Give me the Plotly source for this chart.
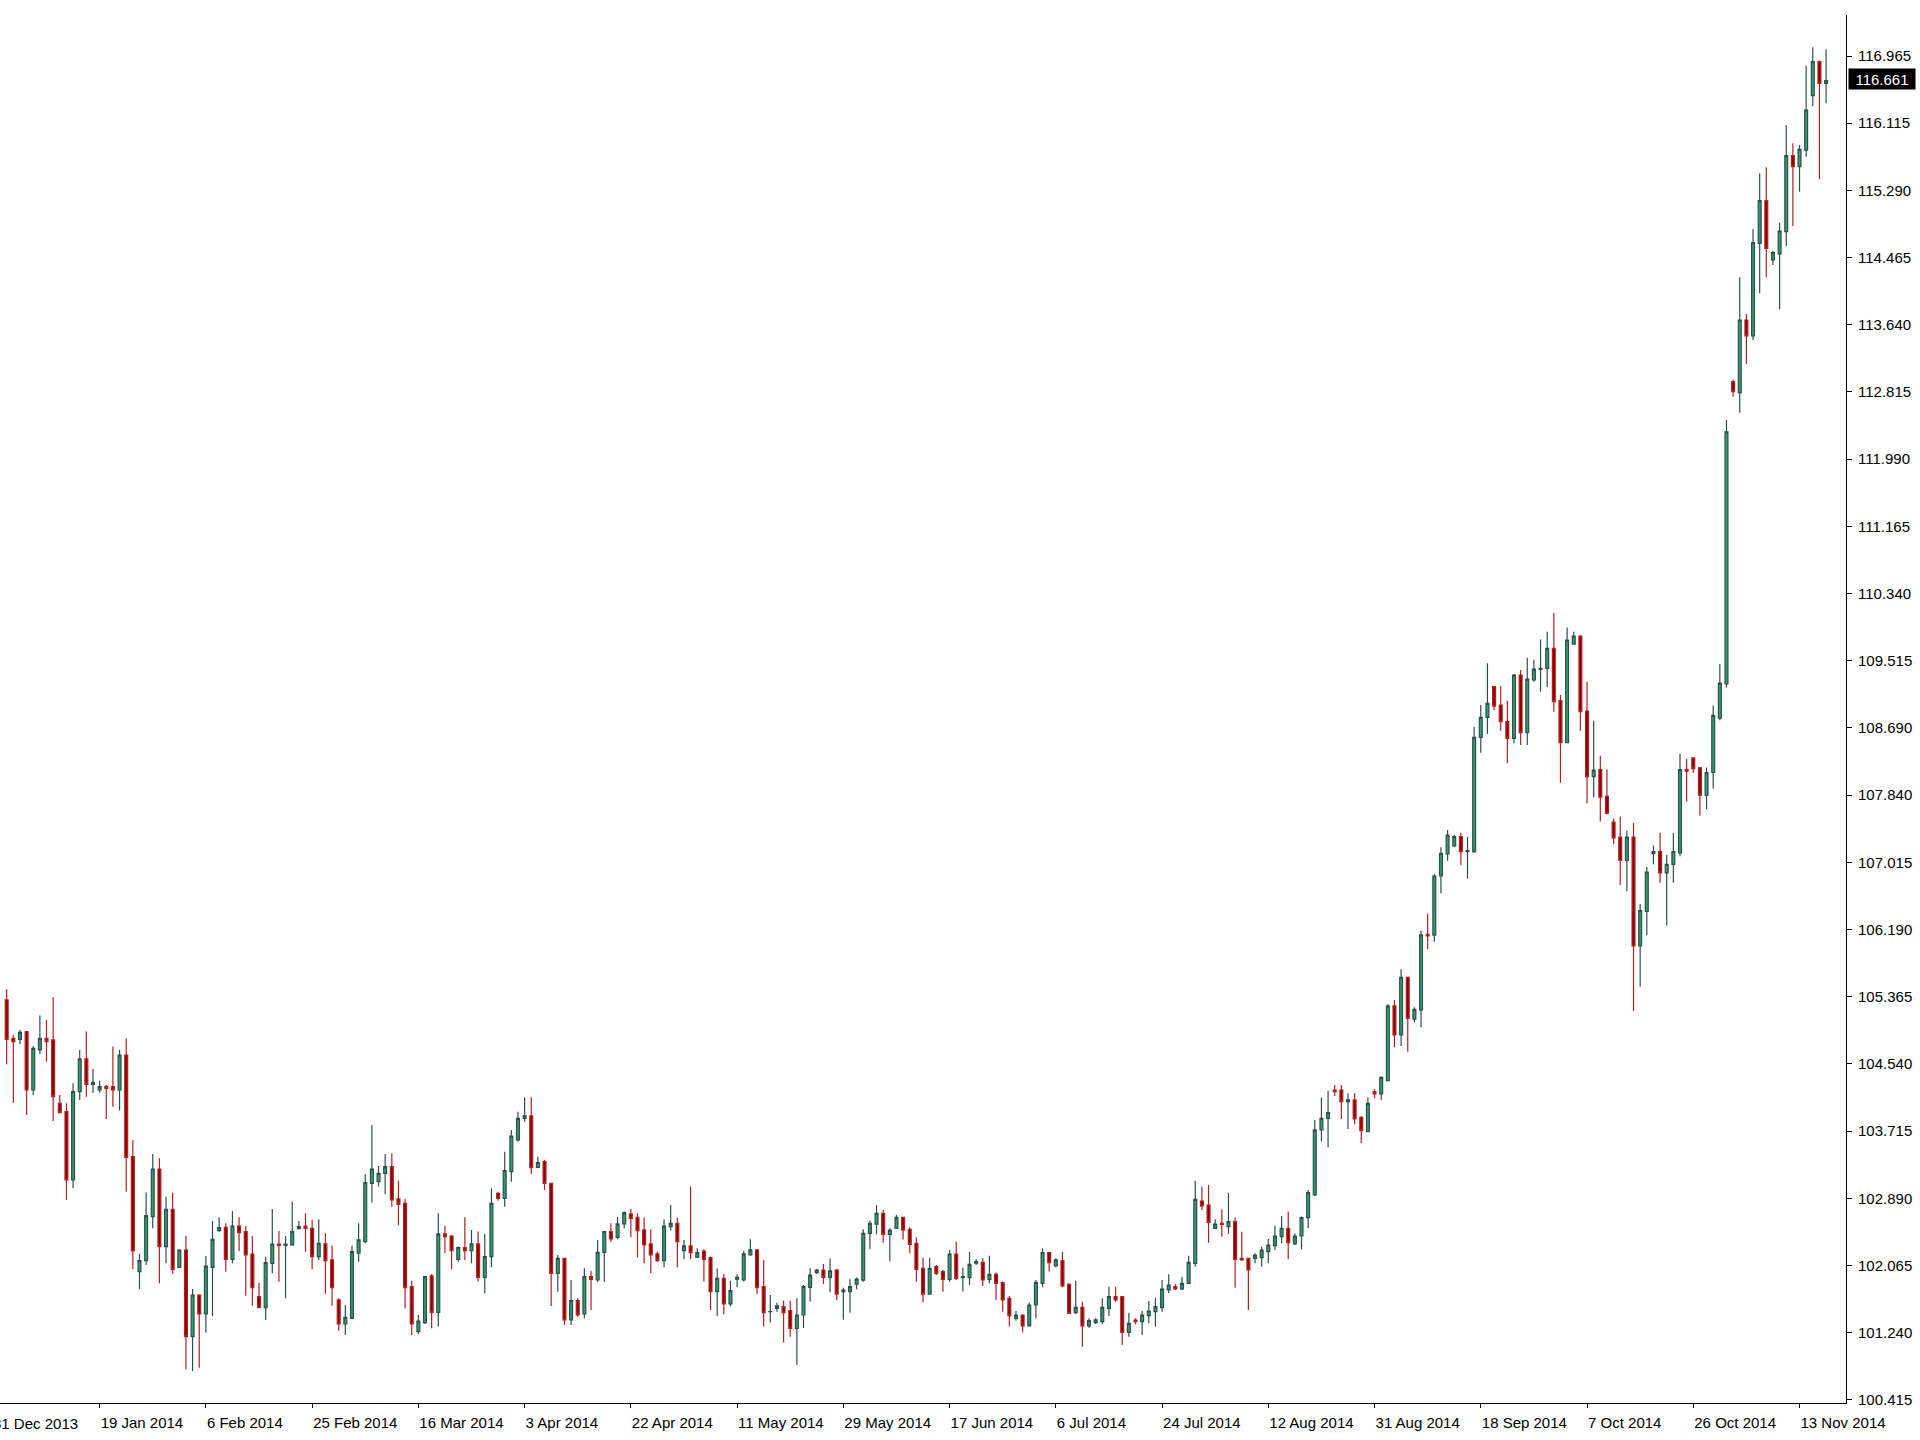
import pandas as pd
import plotly.graph_objects as go

# Daily bars (Sunday-to-Friday sessions), 2 Jan 2014 .. 18 Nov 2014
DATES = [d.strftime("%Y-%m-%d") for d in pd.bdate_range(
    "2014-01-02", "2014-11-18", freq="C", weekmask="Sun Mon Tue Wed Thu Fri")]

OPEN = [
    105.340, 104.867, 104.855, 104.950, 104.231, 104.724, 104.867, 104.847, 104.067, 103.964,
    103.123, 104.211, 104.613, 104.301, 104.231, 104.276, 104.272, 104.231, 104.662, 103.410,
    101.994, 102.129, 102.671, 103.258, 102.301, 102.761, 102.047, 102.260, 101.193, 101.706,
    101.472, 102.047, 102.498, 102.539, 102.145, 102.556, 102.486, 102.211, 101.686, 101.550,
    102.096, 102.334, 102.318, 102.322, 102.523, 102.556, 102.527, 102.178, 102.335, 102.138,
    101.645, 101.349, 101.419, 102.220, 102.363, 103.082, 103.102, 103.205, 103.287, 102.889,
    102.835, 101.809, 101.255, 101.366, 101.941, 101.493, 102.458, 102.433, 102.146, 102.289,
    102.253, 102.335, 101.924, 102.178, 102.958, 102.897, 103.225, 103.615, 103.882, 103.911,
    103.278, 103.348, 103.081, 101.973, 102.158, 101.398, 101.636, 101.472, 101.932, 101.891,
    102.232, 102.486, 102.416, 102.581, 102.704, 102.663, 102.507, 102.335, 102.212, 102.129,
    102.548, 102.589, 102.253, 102.310, 102.170, 102.248, 102.166, 101.748, 101.912, 101.596,
    101.900, 101.891, 102.199, 102.261, 101.809, 101.500, 101.542, 101.563, 101.514, 101.296,
    101.460, 101.800, 101.981, 102.014, 101.923, 102.014, 101.747, 101.747, 101.841, 101.890,
    102.465, 102.580, 102.712, 102.453, 102.527, 102.662, 102.515, 102.342, 102.034, 101.718,
    102.055, 101.993, 101.899, 102.211, 101.920, 101.920, 102.097, 102.109, 101.899, 101.961,
    101.858, 101.665, 101.419, 101.460, 101.325, 101.583, 101.850, 102.228, 102.064, 102.129,
    101.838, 101.489, 101.555, 101.325, 101.366, 101.378, 101.542, 101.686, 101.686, 101.246,
    101.398, 101.378, 101.451, 101.501, 101.550, 101.768, 101.809, 101.780, 101.850, 102.096,
    102.864, 102.814, 102.527, 102.589, 102.548, 102.609, 102.158, 102.158, 102.158, 102.166,
    102.240, 102.314, 102.425, 102.528, 102.335, 102.433, 102.659, 102.938, 103.739, 103.882,
    104.231, 104.231, 104.088, 104.108, 103.895, 103.718, 104.211, 104.182, 104.346, 105.266,
    104.909, 105.619, 105.102, 105.217, 106.148, 106.139, 106.866, 107.137, 107.236, 107.350,
    107.166, 107.166, 108.574, 108.820, 109.198, 108.972, 108.767, 108.561, 109.341, 108.631,
    109.280, 109.411, 109.423, 109.670, 109.025, 108.508, 109.723, 109.821, 108.898, 108.089,
    108.178, 107.846, 107.531, 107.346, 107.057, 107.346, 106.004, 106.431, 107.141, 107.167,
    106.904, 107.010, 107.152, 108.178, 108.320, 108.199, 107.862, 108.141, 108.809, 109.231,
    112.954, 112.819, 113.714, 113.517, 114.658, 115.183, 114.453, 114.527, 114.801, 115.737,
    115.602, 115.807, 116.476, 116.895, 116.628,
]

HIGH = [
    105.471, 104.909, 104.970, 104.962, 104.773, 105.147, 105.093, 105.372, 104.170, 104.067,
    104.313, 104.724, 104.950, 104.490, 104.346, 104.293, 104.765, 104.724, 104.867, 103.615,
    102.211, 102.967, 103.443, 103.390, 102.917, 102.966, 102.269, 102.437, 101.780, 101.714,
    102.186, 102.617, 102.663, 102.589, 102.741, 102.663, 102.556, 102.433, 101.858, 102.178,
    102.765, 102.494, 102.433, 102.856, 102.617, 102.712, 102.630, 102.638, 102.466, 102.314,
    101.666, 101.583, 102.314, 102.589, 103.193, 103.800, 103.295, 103.443, 103.451, 103.115,
    102.889, 101.883, 101.460, 101.941, 101.965, 102.712, 102.560, 102.446, 102.302, 102.663,
    102.507, 102.487, 102.457, 103.020, 102.979, 103.471, 103.738, 103.964, 104.141, 104.141,
    103.410, 103.369, 103.090, 102.199, 102.166, 101.891, 101.665, 102.035, 102.006, 102.384,
    102.494, 102.589, 102.671, 102.733, 102.765, 102.712, 102.659, 102.515, 102.240, 102.638,
    102.815, 102.659, 102.384, 103.041, 102.281, 102.269, 102.179, 102.035, 101.965, 101.883,
    101.961, 102.248, 102.392, 102.269, 102.138, 101.707, 101.612, 101.637, 101.637, 101.666,
    101.830, 102.034, 102.026, 102.088, 102.157, 102.026, 101.796, 101.899, 101.923, 102.515,
    102.621, 102.814, 102.753, 102.527, 102.691, 102.670, 102.539, 102.416, 102.166, 102.166,
    102.075, 102.014, 102.260, 102.363, 102.043, 102.240, 102.146, 102.158, 102.191, 101.982,
    101.871, 101.694, 101.509, 101.468, 101.612, 101.891, 102.281, 102.240, 102.158, 102.240,
    101.850, 101.883, 101.624, 101.419, 101.419, 101.665, 101.809, 101.809, 101.694, 101.489,
    101.419, 101.509, 101.632, 101.673, 101.891, 101.961, 101.837, 101.932, 102.190, 103.114,
    103.040, 103.061, 102.638, 102.761, 102.966, 102.662, 102.486, 102.166, 102.219, 102.301,
    102.396, 102.560, 102.680, 102.733, 102.466, 102.672, 103.000, 103.862, 104.137, 104.223,
    104.293, 104.293, 104.190, 104.190, 103.911, 104.141, 104.240, 104.396, 105.286, 105.340,
    105.717, 105.627, 105.249, 106.194, 106.400, 106.891, 107.219, 107.432, 107.371, 107.400,
    107.350, 108.705, 108.972, 109.485, 109.206, 109.206, 109.025, 109.354, 109.403, 109.555,
    109.526, 109.780, 109.875, 110.109, 109.095, 109.928, 109.875, 109.830, 109.259, 108.779,
    108.346, 108.178, 107.573, 107.599, 107.425, 107.520, 106.520, 106.978, 107.241, 107.399,
    107.125, 107.399, 108.373, 108.309, 108.330, 108.209, 108.204, 108.967, 109.478, 112.483,
    112.978, 114.239, 113.788, 114.834, 115.520, 115.594, 114.568, 114.912, 116.115, 115.889,
    115.869, 116.846, 117.072, 116.910, 117.047,
]

LOW = [
    104.547, 104.075, 104.798, 103.923, 104.170, 104.675, 104.580, 103.849, 103.944, 102.877,
    103.020, 104.108, 104.149, 104.198, 104.198, 103.874, 104.026, 103.977, 102.979, 102.023,
    101.776, 102.076, 102.528, 101.850, 102.096, 101.965, 102.039, 100.791, 100.770, 100.811,
    101.242, 101.448, 102.486, 101.993, 102.096, 102.248, 101.698, 101.575, 101.542, 101.398,
    101.973, 101.870, 101.665, 102.314, 102.519, 102.240, 102.022, 102.137, 101.719, 101.575,
    101.267, 101.214, 101.411, 102.117, 102.343, 102.844, 103.041, 102.946, 102.794, 102.569,
    101.542, 101.214, 101.226, 101.349, 101.296, 101.317, 102.220, 102.023, 102.117, 102.138,
    102.097, 101.871, 101.727, 102.047, 102.868, 102.794, 103.102, 103.595, 103.841, 103.196,
    103.266, 102.999, 101.571, 101.747, 101.337, 101.337, 101.439, 101.419, 101.522, 101.870,
    101.870, 102.363, 102.392, 102.527, 102.416, 102.171, 102.097, 101.973, 102.117, 102.047,
    102.499, 102.047, 102.146, 102.146, 102.162, 101.871, 101.522, 101.448, 101.473, 101.563,
    101.801, 101.871, 102.191, 101.719, 101.317, 101.366, 101.501, 101.120, 101.193, 100.845,
    101.300, 101.623, 101.964, 101.841, 101.739, 101.644, 101.400, 101.488, 101.776, 101.870,
    102.268, 102.453, 102.350, 102.124, 102.519, 102.391, 102.219, 101.870, 101.616, 101.710,
    101.952, 101.747, 101.870, 101.891, 101.748, 101.830, 102.076, 101.817, 101.850, 101.645,
    101.501, 101.317, 101.390, 101.243, 101.317, 101.419, 101.801, 101.994, 102.047, 101.801,
    101.473, 101.473, 101.070, 101.304, 101.349, 101.345, 101.448, 101.624, 101.090, 101.193,
    101.345, 101.213, 101.357, 101.316, 101.501, 101.727, 101.768, 101.768, 101.837, 102.055,
    102.753, 102.351, 102.519, 102.424, 102.457, 101.796, 102.129, 101.521, 102.096, 102.055,
    102.096, 102.260, 102.343, 102.146, 102.323, 102.269, 102.528, 102.926, 103.603, 103.525,
    104.158, 103.874, 103.751, 103.809, 103.575, 103.710, 104.129, 104.108, 104.338, 104.757,
    104.773, 104.703, 105.061, 105.003, 105.964, 106.057, 106.653, 107.055, 107.219, 107.002,
    106.837, 107.153, 108.385, 108.615, 108.910, 108.656, 108.254, 108.500, 108.479, 108.479,
    109.259, 109.136, 109.190, 108.890, 108.015, 108.500, 109.715, 108.656, 107.761, 107.835,
    107.536, 107.625, 107.257, 106.757, 106.678, 105.204, 105.504, 106.136, 107.010, 106.783,
    106.257, 106.783, 107.109, 107.783, 108.136, 107.609, 107.689, 107.941, 108.783, 109.188,
    112.767, 112.572, 113.172, 113.467, 114.042, 114.239, 114.391, 113.845, 114.625, 114.871,
    115.294, 115.725, 116.349, 115.446, 116.382,
]

CLOSE = [
    104.855, 104.826, 104.941, 104.231, 104.744, 104.867, 104.826, 104.149, 103.952, 103.123,
    104.211, 104.613, 104.301, 104.326, 104.272, 104.252, 104.231, 104.662, 103.402, 102.248,
    102.129, 102.684, 103.258, 102.302, 102.761, 102.022, 102.260, 101.193, 101.706, 101.472,
    102.063, 102.392, 102.535, 102.145, 102.556, 102.474, 102.199, 101.796, 101.550, 102.104,
    102.334, 102.318, 102.334, 102.486, 102.548, 102.527, 102.178, 102.342, 102.129, 101.797,
    101.349, 101.432, 102.240, 102.384, 103.090, 103.258, 103.205, 103.287, 102.876, 102.823,
    101.797, 101.349, 101.386, 101.932, 101.493, 102.458, 102.425, 102.253, 102.289, 102.253,
    102.335, 101.924, 102.178, 102.835, 102.897, 103.237, 103.664, 103.882, 103.911, 103.274,
    103.336, 103.081, 101.973, 102.158, 101.398, 101.636, 101.460, 101.932, 101.899, 102.232,
    102.486, 102.396, 102.581, 102.720, 102.650, 102.498, 102.322, 102.199, 102.129, 102.556,
    102.589, 102.363, 102.310, 102.228, 102.228, 102.146, 101.748, 101.912, 101.596, 101.760,
    101.924, 102.212, 102.261, 101.797, 101.489, 101.501, 101.571, 101.489, 101.296, 101.460,
    101.809, 101.952, 102.014, 101.923, 102.005, 101.718, 101.767, 101.808, 101.903, 102.465,
    102.589, 102.712, 102.453, 102.506, 102.662, 102.506, 102.330, 102.022, 101.718, 102.034,
    101.973, 101.899, 102.211, 101.911, 101.932, 102.084, 102.117, 101.891, 101.961, 101.850,
    101.645, 101.448, 101.460, 101.325, 101.583, 101.862, 102.228, 102.105, 102.138, 101.817,
    101.481, 101.555, 101.325, 101.390, 101.399, 101.555, 101.686, 101.645, 101.246, 101.357,
    101.378, 101.460, 101.509, 101.562, 101.780, 101.829, 101.780, 101.850, 102.108, 102.884,
    102.802, 102.601, 102.580, 102.576, 102.609, 102.145, 102.137, 102.014, 102.199, 102.260,
    102.322, 102.433, 102.528, 102.351, 102.433, 102.659, 102.967, 103.739, 103.882, 103.952,
    104.211, 104.088, 104.108, 103.874, 103.731, 104.067, 104.182, 104.387, 105.266, 104.909,
    105.619, 105.114, 105.225, 106.140, 106.128, 106.866, 107.145, 107.371, 107.350, 107.166,
    107.178, 108.574, 108.820, 108.993, 108.959, 108.767, 108.561, 109.341, 108.631, 109.292,
    109.415, 109.423, 109.670, 109.013, 108.508, 109.772, 109.821, 108.890, 108.089, 108.171,
    107.836, 107.636, 107.336, 107.057, 107.346, 106.004, 106.441, 106.915, 107.167, 106.904,
    107.010, 107.167, 108.178, 108.157, 108.188, 107.862, 108.141, 108.846, 109.241, 112.336,
    112.831, 113.714, 113.517, 114.666, 115.183, 114.596, 114.543, 114.810, 115.737, 115.602,
    115.815, 116.300, 116.895, 116.628, 116.661,
]

TICK_DATES = ["2014-01-19", "2014-02-06", "2014-02-25", "2014-03-16", "2014-04-03",
              "2014-04-22", "2014-05-11", "2014-05-29", "2014-06-17", "2014-07-06",
              "2014-07-24", "2014-08-12", "2014-08-31", "2014-09-18", "2014-10-07",
              "2014-10-26", "2014-11-13"]
TICK_TEXT = ["19 Jan 2014", "6 Feb 2014", "25 Feb 2014", "16 Mar 2014", "3 Apr 2014",
             "22 Apr 2014", "11 May 2014", "29 May 2014", "17 Jun 2014", "6 Jul 2014",
             "24 Jul 2014", "12 Aug 2014", "31 Aug 2014", "18 Sep 2014", "7 Oct 2014",
             "26 Oct 2014", "13 Nov 2014"]
FIRST_LABEL = "31 Dec 2013"

Y_TICK_LABELS = ["100.415", "101.240", "102.065", "102.890", "103.715", "104.540",
                 "105.365", "106.190", "107.015", "107.840", "108.690", "109.515",
                 "110.340", "111.165", "111.990", "112.815", "113.640", "114.465",
                 "115.290", "116.115", "116.965"]
LAST_PRICE = 116.661

assert len(DATES) == len(OPEN) == len(HIGH) == len(LOW) == len(CLOSE)

FONT = "Liberation Sans, Arial, sans-serif"

# evenly spaced price grid as the terminal draws it
y_lo, y_hi = float(Y_TICK_LABELS[0]), float(Y_TICK_LABELS[-1])
step = (y_hi - y_lo) / (len(Y_TICK_LABELS) - 1)
y_tickvals = [y_lo + i * step for i in range(len(Y_TICK_LABELS))]

fig = go.Figure(go.Candlestick(
    x=DATES, open=OPEN, high=HIGH, low=LOW, close=CLOSE,
    increasing=dict(fillcolor="#2E9E68", line=dict(color="#2F4F4F", width=1.2)),
    decreasing=dict(fillcolor="#8B0000", line=dict(color="#B02222", width=1.2)),
    whiskerwidth=0, showlegend=False,
))

fig.update_layout(
    width=1920, height=1440,
    margin=dict(l=0, r=74, t=15, b=37),
    paper_bgcolor="white", plot_bgcolor="white",
    boxgap=0.38,
    font=dict(family=FONT, size=15, color="black"),
    xaxis=dict(
        type="category", range=[-1.006, 277.0],
        rangeslider=dict(visible=False),
        showgrid=False, zeroline=False,
        showline=True, linecolor="black", linewidth=1,
        ticks="outside", ticklen=4, tickcolor="black",
        tickmode="array", tickvals=TICK_DATES, ticktext=TICK_TEXT,
        ticklabelposition="outside right",
        ticklabelstandoff=6,
        tickfont=dict(family=FONT, size=15, color="black"),
    ),
    yaxis=dict(
        side="right", range=[100.376, 117.470],
        showgrid=False, zeroline=False,
        showline=True, linecolor="black", linewidth=1,
        ticks="outside", ticklen=5, tickcolor="black",
        tickmode="array", tickvals=y_tickvals, ticktext=Y_TICK_LABELS,
        ticklabelstandoff=3,
        tickfont=dict(family=FONT, size=15, color="black"),
    ),
    annotations=[
        dict(text=FIRST_LABEL, xref="paper", yref="paper", x=-8.6 / 1846, y=0,
             xanchor="left", yanchor="top", yshift=-10, showarrow=False,
             font=dict(family=FONT, size=15, color="black")),
        dict(text=f"{LAST_PRICE:.3f}", xref="paper", yref="y", x=1, y=LAST_PRICE,
             xanchor="left", yanchor="middle", xshift=2, yshift=2, showarrow=False,
             bgcolor="black", borderpad=2, width=62, height=16,
             font=dict(family=FONT, size=15, color="white")),
    ],
)

fig.write_html("out.html", config={"displayModeBar": False},
               post_script="document.body.style.margin='0';document.body.style.overflow='hidden';")
